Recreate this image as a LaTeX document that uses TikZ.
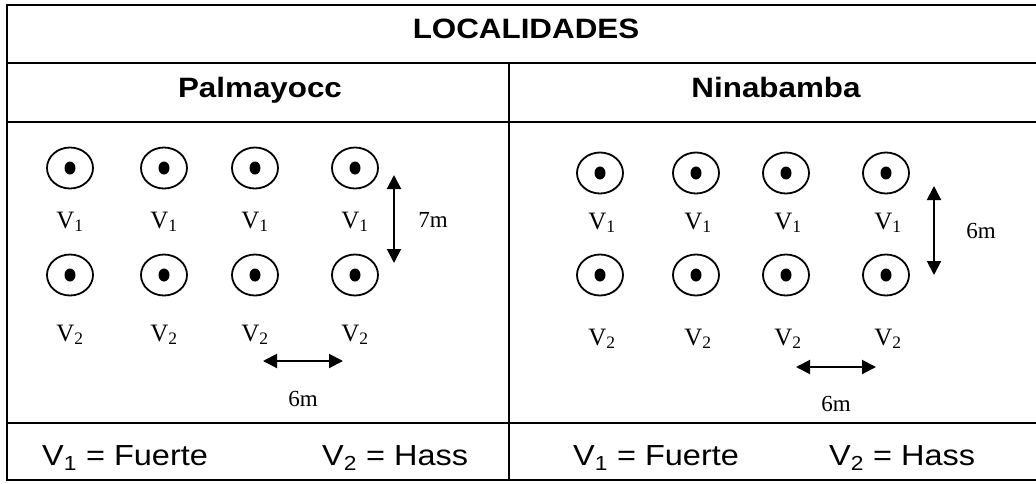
\documentclass[tikz,border=0pt]{standalone}
\usepackage{fontspec}
\usepackage{graphicx}
\setmainfont{Liberation Serif}
\newfontfamily\sansf{Liberation Sans}
\usetikzlibrary{arrows.meta,shapes.geometric}
\newcommand{\wide}[1]{\scalebox{1.12}[1]{#1}}
\begin{document}
\begin{tikzpicture}[x=1pt,y=-1pt,
  rule/.style={line width=2pt},
  tree/.style={draw,ellipse,line width=1.8pt,minimum width=46pt,minimum height=41pt,inner sep=0pt},
  vlab/.style={anchor=base,font=\fontsize{25}{25}\selectfont,inner sep=0pt},
  dimlab/.style={anchor=base,font=\fontsize{23}{23}\selectfont,inner sep=0pt},
  dimarrow/.style={line width=2pt,{Triangle[length=14pt,width=14pt]}-{Triangle[length=14pt,width=14pt]}},
  head/.style={anchor=base,font=\sansf\bfseries\fontsize{28}{28}\selectfont,inner sep=0pt},
  foot/.style={anchor=base west,font=\sansf\fontsize{29}{29}\selectfont,inner sep=0pt}]
\useasboundingbox (0,0) rectangle (1036,483);
% table rules
\draw[rule] (1036,5) -- (7,5) -- (7,480) -- (1036,480);
\draw[rule] (7,63) -- (1036,63);
\draw[rule] (7,122) -- (1036,122);
\draw[rule] (7,423) -- (1036,423);
\draw[rule] (509,63) -- (509,480);
% headers
\node[head] (hloc) at (526,38) {\wide{LOCALIDADES}};
\node[head] (hpal) at (260,97) {\wide{Palmayocc}};
\node[head] (hnin) at (776,97) {\wide{Ninabamba}};
% Palmayocc grid
\foreach \x [count=\i] in {70,164,255,355} {
  \node[tree] (pa1\i) at (\x,168) {};
  \fill (pa1\i) ellipse (5.5pt and 6.5pt);
  \node[vlab] (pl1\i) at (\x,228) {V\textsubscript{1}};
  \node[tree] (pa2\i) at (\x,275) {};
  \fill (pa2\i) ellipse (5.5pt and 6.5pt);
  \node[vlab] (pl2\i) at (\x,341) {V\textsubscript{2}};
}
\coordinate (pv1) at (394,175);
\coordinate (pv2) at (394,263);
\draw[dimarrow] (pv1) -- (pv2);
\node[dimlab] (p7m) at (433,227) {7m};
\coordinate (ph1) at (263,361);
\coordinate (ph2) at (343,361);
\draw[dimarrow] (ph1) -- (ph2);
\node[dimlab] (p6m) at (303,406) {6m};
% Ninabamba grid
\foreach \x [count=\i] in {600,696,786,886} {
  \node[tree] (na1\i) at (\x,173) {};
  \fill (na1\i) ellipse (5.5pt and 6.5pt);
  \node[vlab] (nl1\i) at (\x+2,229) {V\textsubscript{1}};
  \node[tree] (na2\i) at (\x,275) {};
  \fill (na2\i) ellipse (5.5pt and 6.5pt);
  \node[vlab] (nl2\i) at (\x+2,345) {V\textsubscript{2}};
}
\coordinate (nv1) at (934,186);
\coordinate (nv2) at (934,275);
\draw[dimarrow] (nv1) -- (nv2);
\node[dimlab] (n6mv) at (981,238) {6m};
\coordinate (nh1) at (796,367);
\coordinate (nh2) at (876,367);
\draw[dimarrow] (nh1) -- (nh2);
\node[dimlab] (n6mh) at (836,411) {6m};
% footer
\node[foot] (pf1) at (42,465) {\wide{V\textsubscript{1} = Fuerte}};
\node[foot] (pf2) at (322,465) {\wide{V\textsubscript{2} = Hass}};
\node[foot] (nf1) at (573,465) {\wide{V\textsubscript{1} = Fuerte}};
\node[foot] (nf2) at (829,465) {\wide{V\textsubscript{2} = Hass}};
\end{tikzpicture}
\end{document}
